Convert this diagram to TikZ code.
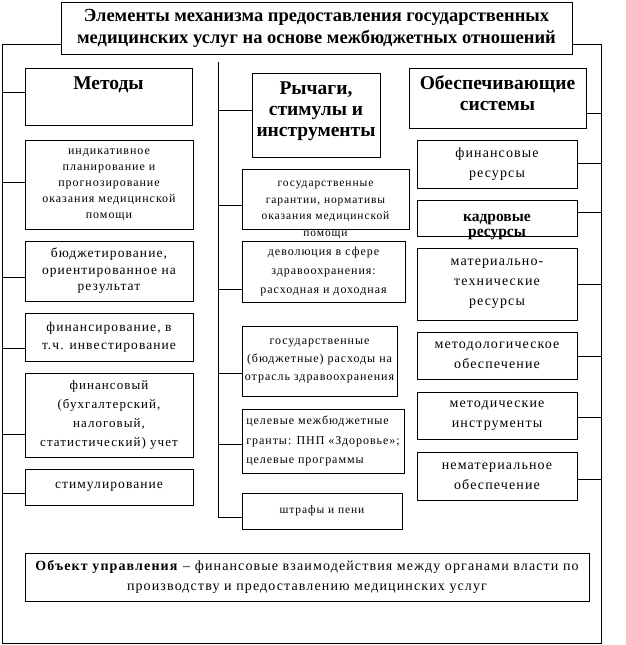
\documentclass[tikz,border=0pt]{standalone}
\usepackage{fontspec}
\setmainfont{Liberation Serif}
\newfontfamily\spaced[LetterSpace=8]{Liberation Serif}
\usetikzlibrary{positioning}
\tikzset{
  box/.style={draw,line width=0.8pt,fill=white,inner sep=0pt,align=center},
  sz/.style 2 args={minimum width=#1pt,minimum height=#2pt},
  link/.style={line width=0.8pt},
  head/.style={font=\fontsize{19.5}{21}\selectfont\bfseries},
  small/.style={font=\spaced\fontsize{12}{16}\selectfont},
  norm/.style={font=\spaced\fontsize{13.5}{18.5}\selectfont},
  side/.style={font=\spaced\fontsize{14}{20}\selectfont},
  lift/.style 2 args={text height=#1pt,text depth=#2pt},
}

\begin{document}
\begin{tikzpicture}[x=1pt,y=-1pt]
  \useasboundingbox (0,0) rectangle (626,645);
  % outer frame and title
  \node[draw,link,sz={599}{599}] (frame) at (301.5,343.5) {};
  \node[box,sz={511}{52},font=\fontsize{18.5}{22}\selectfont\bfseries] (title) at (316.5,28)
    {Элементы механизма предоставления государственных\\медицинских услуг на основе межбюджетных отношений};

  % methods
  \node[box,head,sz={167}{57},lift={0}{15}] (m0) at (108.5,96.5) {Методы};
  \node[box,small,sz={168}{89}] (m1) at (109,184.5)
    {индикативное\\планирование и\\прогнозирование\\оказания медицинской\\помощи};
  \node[box,norm,font=\spaced\fontsize{13.5}{16.5}\selectfont,sz={168}{60}] (m2) at (109,271)
    {бюджетирование,\\ориентированное на\\результат};
  \node[box,norm,sz={168}{48}] (m3) at (109,337) {финансирование, в\\т.ч. инвестирование};
  \node[box,norm,font=\spaced\fontsize{13}{19}\selectfont,sz={168}{84}] (m4) at (109,415)
    {финансовый\\(бухгалтерский,\\налоговый,\\статистический) учет};
  \node[box,norm,sz={168}{36}] (m5) at (109,487) {стимулирование};

  % levers
  \node[box,head,sz={128}{84},lift={42}{0}] (r0) at (316,115) {Рычаги,\\стимулы и\\инструменты};
  \node[box,sz={167}{60}] (r1) at (325.5,199) {};
  \node[small,font=\spaced\fontsize{11.5}{16.5}\selectfont,align=center,inner sep=0pt] (r1t)
    at ([yshift=-11pt]r1.center)
    {государственные\\гарантии, нормативы\\оказания медицинской\\помощи};
  \node[box,norm,font=\spaced\fontsize{12}{19}\selectfont,sz={163}{61}] (r2) at (323.5,271.5)
    {деволюция в сфере\\здравоохранения:\\расходная и доходная};
  \node[box,norm,font=\spaced\fontsize{12}{18}\selectfont,sz={155}{70}] (r3) at (319.5,361)
    {государственные\\(бюджетные) расходы на\\отрасль здравоохранения};
  \node[box,norm,font=\spaced\fontsize{12}{19.5}\selectfont,align=left,sz={162}{64}] (r4) at (323,441)
    {целевые межбюджетные\\гранты: ПНП «Здоровье»;\\целевые программы};
  \node[box,small,font=\spaced\fontsize{11.5}{16}\selectfont,sz={160}{36}] (r5) at (322,511)
    {штрафы и пени};

  % supporting systems
  \node[box,head,sz={177}{60},lift={24}{0}] (s0) at (497.5,98) {Обеспечивающие\\системы};
  \node[box,side,sz={160}{48}] (s1) at (497,164) {финансовые\\ресурсы};
  \node[box,font=\fontsize{15.5}{15}\selectfont\bfseries,sz={160}{36},lift={36}{0}] (s2) at (497,218)
    {кадровые\\ресурсы};
  \node[box,side,sz={160}{72}] (s3) at (497,284) {материально-\\технические\\ресурсы};
  \node[box,side,sz={160}{47}] (s4) at (497,355.5) {методологическое\\обеспечение};
  \node[box,side,sz={160}{47}] (s5) at (497,415.5) {методические\\инструменты};
  \node[box,side,sz={160}{48}] (s6) at (497,476) {нематериальное\\обеспечение};

  % object of management
  \node[box,font=\spaced\fontsize{14}{20}\selectfont,sz={564}{48}] (obj) at (307,577)
    {\textbf{Объект управления} – финансовые взаимодействия между органами власти по\\производству и предоставлению медицинских услуг};

  % connectors
  \coordinate (bus) at (218,62);
  \foreach \n/\y in {m0/92,m1/182,m2/277,m3/348,m4/434,m5/493}
    \draw[link] (frame.west |- 0,\y) -- (\n.west |- 0,\y);
  \foreach \n/\y in {r0/110,r1/205,r2/289,r3/373,r4/444}
    \draw[link] (bus |- 0,\y) -- (\n.west |- 0,\y);
  \draw[link] (bus) |- (r5.west |- 0,517);
  \foreach \n/\y in {s0/113,s1/163,s2/212,s3/284,s4/356,s5/417,s6/479}
    \draw[link] (\n.east |- 0,\y) -- (frame.east |- 0,\y);
\end{tikzpicture}
\end{document}
